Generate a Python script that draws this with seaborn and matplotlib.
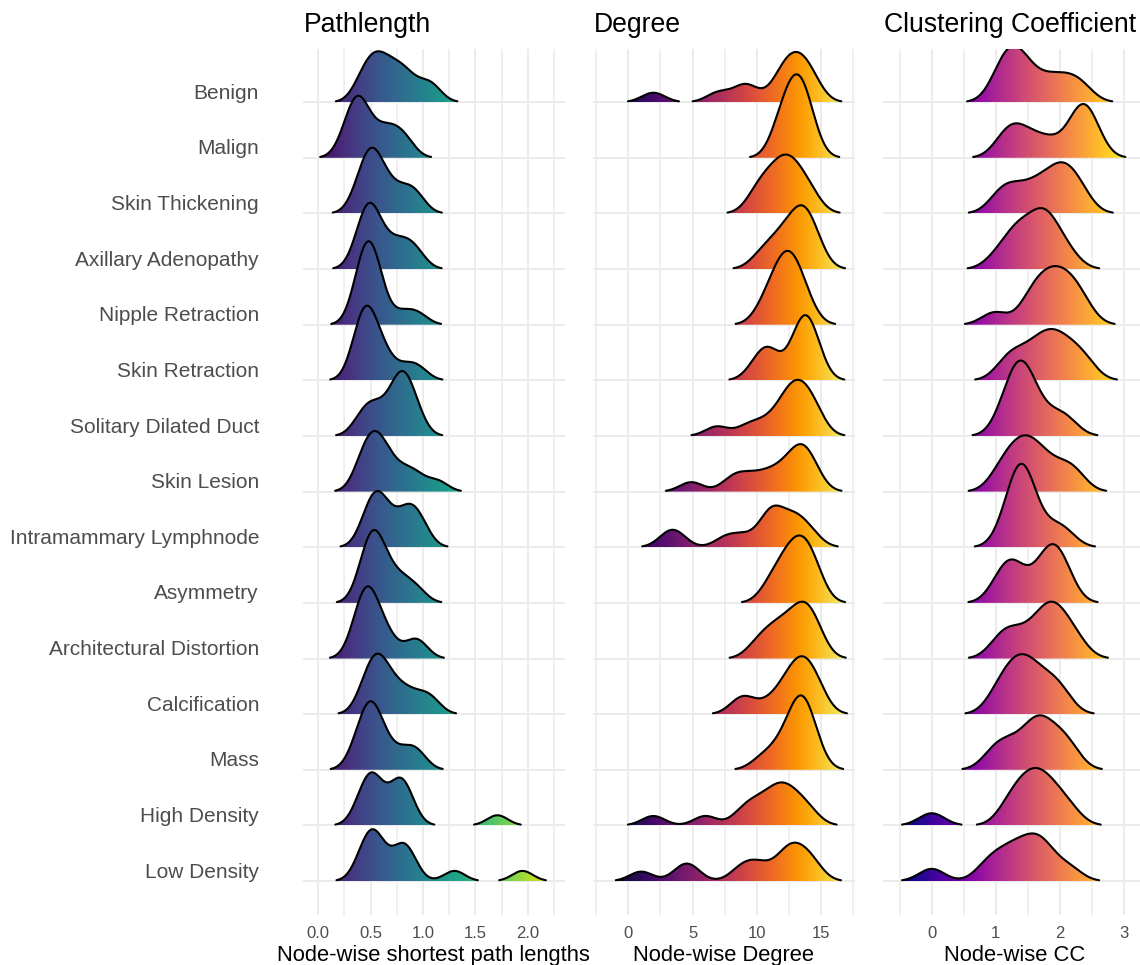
import numpy as np
import matplotlib
matplotlib.use("Agg")
import matplotlib.pyplot as plt
import matplotlib.transforms as mtransforms
from matplotlib.colors import Normalize
from matplotlib.patches import Polygon
import seaborn as sns

# Finding groups, listed top to bottom
categories = [
    "Benign", "Malign", "Skin Thickening", "Axillary Adenopathy", "Nipple Retraction",
    "Skin Retraction", "Solitary Dilated Duct", "Skin Lesion", "Intramammary Lymphnode",
    "Asymmetry", "Architectural Distortion", "Calcification", "Mass", "High Density",
    "Low Density",
]

# Node-wise shortest path lengths, one list per group (same order as categories)
pathlength = [
    [0.40, 0.46, 0.51, 0.55, 0.59, 0.64, 0.70, 0.76, 0.82, 0.88, 1.02, 1.10],
    [0.25, 0.32, 0.35, 0.37, 0.39, 0.42, 0.46, 0.56, 0.63, 0.70, 0.77, 0.85],
    [0.37, 0.44, 0.47, 0.49, 0.51, 0.54, 0.58, 0.63, 0.70, 0.80, 0.88, 0.95],
    [0.38, 0.44, 0.46, 0.48, 0.50, 0.52, 0.56, 0.64, 0.72, 0.80, 0.87, 0.95],
    [0.37, 0.41, 0.43, 0.45, 0.47, 0.49, 0.51, 0.53, 0.56, 0.60, 0.80, 0.95],
    [0.36, 0.40, 0.42, 0.44, 0.46, 0.48, 0.51, 0.55, 0.60, 0.68, 0.84, 0.96],
    [0.40, 0.47, 0.53, 0.59, 0.70, 0.74, 0.77, 0.80, 0.82, 0.85, 0.89, 0.95],
    [0.40, 0.44, 0.48, 0.52, 0.55, 0.58, 0.62, 0.67, 0.76, 0.86, 0.95, 1.14],
    [0.45, 0.50, 0.53, 0.56, 0.59, 0.63, 0.70, 0.80, 0.85, 0.89, 0.94, 1.00],
    [0.42, 0.46, 0.49, 0.51, 0.53, 0.55, 0.58, 0.62, 0.68, 0.76, 0.84, 0.95],
    [0.35, 0.40, 0.43, 0.45, 0.47, 0.49, 0.52, 0.56, 0.62, 0.70, 0.90, 0.97],
    [0.43, 0.48, 0.52, 0.55, 0.58, 0.61, 0.65, 0.72, 0.80, 0.88, 1.00, 1.09],
    [0.35, 0.42, 0.45, 0.48, 0.50, 0.52, 0.55, 0.59, 0.66, 0.78, 0.89, 0.96],
    [0.40, 0.45, 0.49, 0.52, 0.55, 0.58, 0.73, 0.76, 0.79, 0.82, 0.87, 1.71],
    [0.41, 0.46, 0.50, 0.53, 0.56, 0.60, 0.75, 0.80, 0.84, 0.88, 1.30, 1.95],
]

# Node-wise degree
degree = [
    [1.95, 7.0, 8.8, 9.5, 11.6, 12.1, 12.5, 12.9, 13.2, 13.6, 14.0, 14.5],
    [11.7, 11.9, 12.2, 12.5, 12.8, 13.0, 13.2, 13.4, 13.5, 13.7, 13.9, 14.2],
    [9.8, 10.3, 10.8, 11.3, 11.7, 12.0, 12.3, 12.6, 12.9, 13.3, 13.8, 14.4],
    [10.2, 11.05, 11.65, 12.15, 12.6, 12.95, 13.3, 13.55, 13.75, 14.0, 14.3, 14.75],
    [10.4, 11.05, 11.45, 11.75, 12.0, 12.25, 12.45, 12.7, 12.9, 13.15, 13.5, 14.0],
    [9.9, 10.6, 11.0, 11.2, 13.0, 13.2, 13.5, 13.7, 13.9, 14.1, 14.3, 14.6],
    [6.9, 9.3, 10.6, 11.7, 12.2, 12.6, 12.9, 13.2, 13.5, 13.9, 14.3, 14.7],
    [4.9, 8.0, 8.9, 10.0, 11.0, 11.8, 12.6, 13.0, 13.4, 13.7, 14.0, 14.5],
    [3.1, 3.8, 7.6, 9.0, 10.7, 11.0, 11.3, 11.6, 12.5, 13.0, 13.4, 14.3],
    [10.9, 11.5, 12.0, 12.4, 12.7, 13.0, 13.3, 13.5, 13.8, 14.1, 14.4, 14.7],
    [9.9, 10.7, 11.3, 11.8, 12.3, 12.8, 13.2, 13.5, 13.8, 14.1, 14.4, 14.8],
    [8.6, 9.3, 11.0, 12.0, 12.5, 12.9, 13.2, 13.5, 13.8, 14.1, 14.5, 14.9],
    [10.3, 11.3, 12.0, 12.5, 12.8, 13.1, 13.35, 13.45, 13.55, 13.75, 13.95, 14.2, 14.6],
    [1.95, 6.0, 8.8, 9.6, 10.3, 11.0, 11.5, 11.9, 12.3, 12.8, 13.4, 14.2],
    [1.0, 4.2, 4.9, 8.7, 9.6, 10.5, 11.9, 12.4, 12.8, 13.3, 13.9, 14.5],
]

# Node-wise clustering coefficient
clustering = [
    [1.04, 1.14, 1.23, 1.31, 1.40, 1.52, 1.75, 1.95, 2.15, 2.35],
    [1.12, 1.26, 1.40, 1.62, 1.88, 2.22, 2.30, 2.37, 2.44, 2.53],
    [1.05, 1.20, 1.40, 1.60, 1.75, 1.90, 2.00, 2.10, 2.20, 2.35],
    [1.02, 1.25, 1.33, 1.40, 1.55, 1.66, 1.72, 1.78, 1.85, 1.96, 2.15],
    [0.98, 1.50, 1.62, 1.74, 1.84, 1.93, 2.03, 2.13, 2.24, 2.38],
    [1.15, 1.30, 1.50, 1.65, 1.77, 1.87, 1.97, 2.10, 2.25, 2.42],
    [1.12, 1.24, 1.31, 1.36, 1.41, 1.46, 1.54, 1.66, 1.92, 2.12],
    [1.05, 1.20, 1.32, 1.42, 1.50, 1.60, 1.72, 1.88, 2.10, 2.25],
    [1.16, 1.28, 1.34, 1.38, 1.41, 1.45, 1.50, 1.58, 1.88, 2.08],
    [1.05, 1.18, 1.27, 1.36, 1.66, 1.78, 1.86, 1.93, 2.00, 2.10],
    [1.05, 1.20, 1.38, 1.60, 1.72, 1.82, 1.90, 1.98, 2.10, 2.28],
    [1.00, 1.15, 1.26, 1.35, 1.43, 1.52, 1.63, 1.76, 1.92, 2.05],
    [0.95, 1.12, 1.30, 1.50, 1.60, 1.68, 1.76, 1.90, 2.05, 2.18],
    [0.00, 1.18, 1.33, 1.45, 1.55, 1.64, 1.73, 1.84, 1.97, 2.17],
    [0.00, 0.85, 1.05, 1.22, 1.36, 1.50, 1.62, 1.72, 1.84, 2.15],
]

panel_titles = ["Pathlength", "Degree", "Clustering Coefficient"]
axis_titles = ["Node-wise shortest path lengths", "Node-wise Degree", "Node-wise CC"]

path_ticks = [0.0, 0.5, 1.0, 1.5, 2.0]
path_tick_labels = ["0.0", "0.5", "1.0", "1.5", "2.0"]
degree_ticks = [0, 5, 10, 15]
degree_tick_labels = ["0", "5", "10", "15"]
cc_ticks = [0, 1, 2, 3]
cc_tick_labels = ["0", "1", "2", "3"]

# ---------------------------------------------------------------- styling
sns.set_theme(style="white")
plt.rcParams["font.family"] = ["Liberation Sans", "DejaVu Sans"]

W, H = 1140, 965
fig = plt.figure(figsize=(W / 100, H / 100), dpi=100)

AX_TOP, AX_BOTTOM, AX_W = 49.3, 915.0, 262.3
YLIM = (-0.61, 14.95)
SCALE = 1.5          # tallest ridge spans 1.5 row spacings
REL_MIN = 0.01       # tails below 1% of the tallest point are dropped
GRID = "#ebebeb"

panels = [
    dict(samples=pathlength, bw=0.10, left=302.7, xlim=(-0.149, 2.356),
         clim=(-0.05, 2.30), cmap="viridis", ticks=path_ticks,
         labels=path_tick_labels, minor=[0.25, 0.75, 1.25, 1.75, 2.25]),
    dict(samples=degree, bw=0.90, left=592.7, xlim=(-2.771, 17.646),
         clim=(-2.2, 17.8), cmap="inferno", ticks=degree_ticks,
         labels=degree_tick_labels, minor=[-2.5, 2.5, 7.5, 12.5, 17.5]),
    dict(samples=clustering, bw=0.20, left=883.3, xlim=(-0.755, 3.337),
         clim=(-0.30, 3.10), cmap="plasma", ticks=cc_ticks,
         labels=cc_tick_labels, minor=[-0.5, 0.5, 1.5, 2.5]),
]


def kde(values, grid, bw):
    v = np.asarray(values, dtype=float)
    z = (grid[:, None] - v[None, :]) / bw
    return np.exp(-0.5 * z ** 2).sum(axis=1) / (len(v) * bw * np.sqrt(2 * np.pi))


def draw_ridges(ax, samples, bw, xlim, cmap, norm):
    grid = np.linspace(xlim[0], xlim[1], 1400)
    dens = [kde(s, grid, bw) for s in samples]
    peak = max(d.max() for d in dens)
    n = len(samples)
    for i, d in enumerate(dens):
        base = n - 1 - i
        h = d / peak * SCALE
        idx = np.flatnonzero(h >= REL_MIN * SCALE)
        runs = np.split(idx, np.flatnonzero(np.diff(idx) > 1) + 1)
        z = 3 + 2 * i
        for r in runs:
            if len(r) < 2:
                continue
            x = grid[r]
            y = base + h[r]
            verts = np.column_stack([np.r_[x[0], x, x[-1]], np.r_[base, y, base]])
            poly = Polygon(verts, closed=True, facecolor="none", edgecolor="none",
                           transform=ax.transData)
            ax.add_patch(poly)
            grad = np.linspace(x[0], x[-1], 600)[None, :]
            im = ax.imshow(grad, extent=(x[0], x[-1], base, y.max()), origin="lower",
                           cmap=cmap, norm=norm, aspect="auto",
                           interpolation="bilinear", zorder=z)
            im.set_clip_path(poly)
            sns.lineplot(x=x, y=y, color="black", linewidth=1.5, sort=False,
                         estimator=None, ax=ax, zorder=z + 1, legend=False)


for k, p in enumerate(panels):
    ax = fig.add_axes([p["left"] / W, 1 - AX_BOTTOM / H, AX_W / W,
                       (AX_BOTTOM - AX_TOP) / H])
    cmap = sns.color_palette(p["cmap"], as_cmap=True)
    norm = Normalize(*p["clim"])
    draw_ridges(ax, p["samples"], p["bw"], p["xlim"], cmap, norm)

    ax.set_xlim(*p["xlim"])
    ax.set_ylim(*YLIM)
    ax.set_xticks(p["ticks"])
    ax.set_xticklabels(p["labels"])
    ax.set_xticks(p["minor"], minor=True)
    ax.set_yticks(range(len(categories)))
    ax.set_yticklabels([])
    ax.tick_params(which="both", length=0)
    ax.tick_params(axis="x", colors="#4d4d4d", labelsize=12, pad=8)
    ax.grid(True, which="major", color=GRID, linewidth=1.4)
    ax.grid(True, which="minor", axis="x", color=GRID, linewidth=1.1)
    ax.set_axisbelow(True)
    ax.set_xlabel("")
    ax.set_ylabel("")
    sns.despine(ax=ax, left=True, bottom=True)

    if k == 0:
        trans = mtransforms.blended_transform_factory(fig.transFigure, ax.transData) + \
            mtransforms.ScaledTranslation(0, 3.4 / 100, fig.dpi_scale_trans)
        n = len(categories)
        for i, name in enumerate(categories):
            ax.text(259 / W, n - 1 - i, name, transform=trans, ha="right",
                    va="baseline", fontsize=15, color="#4d4d4d", clip_on=False)

    fig.text(p["left"] / W + 1.0 / W, 1 - 32.3 / H, panel_titles[k], ha="left",
             va="baseline", fontsize=19.2, color="black")
    fig.text((p["left"] + AX_W / 2) / W, 1 - 961 / H, axis_titles[k], ha="center",
             va="baseline", fontsize=15.8, color="black")

fig.savefig("out.png", dpi=100, facecolor="white")
